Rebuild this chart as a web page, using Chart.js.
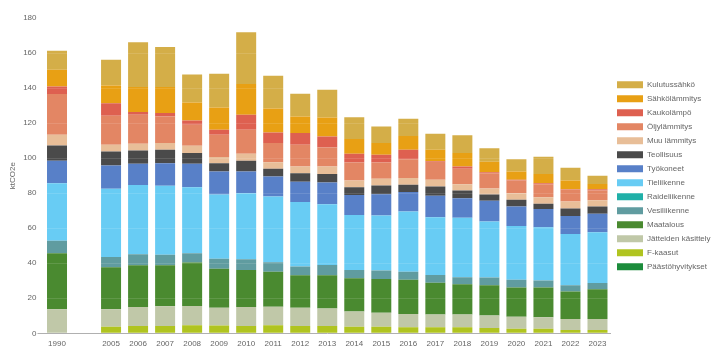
<!DOCTYPE html>
<html>
<head>
<meta charset="utf-8">
<script src="https://cdn.jsdelivr.net/npm/chart.js@4"></script>
<style>
  body { margin: 0; background: #fff; }
  #wrap { width: 720px; height: 360px; }
</style>
</head>
<body>
<div id="wrap"><canvas id="kaavio" width="720" height="360"></canvas></div>
<script>
// vuodet (tyhjä väli 1990 ja 2005 välissä)
let vuodet = ["1990", "", "2005", "2006", "2007", "2008", "2009", "2010", "2011", "2012", "2013",
  "2014", "2015", "2016", "2017", "2018", "2019", "2020", "2021", "2022", "2023"];

// päästöt sektoreittain, ktCO2e
let paastohyvitykset = [0, null, 0, 0, 0, 0, 0, 0, 0, 0, 0, 0, 0, 0, 0, 0, 0, 0, 0, 0, 0];
let fKaasut = [0, null, 3.8, 4.2, 4.2, 4.6, 4.4, 4.2, 4.6, 4.2, 4.2, 3.8, 3.8, 3.4, 3.4, 3.4, 3.0, 2.6, 2.6, 1.9, 1.9];
let jatteet = [13.7, null, 9.9, 10.8, 11.2, 11.0, 10.2, 10.8, 10.6, 10.4, 9.9, 8.6, 8.0, 7.6, 7.3, 7.3, 7.1, 6.9, 6.5, 6.3, 6.3];
let maatalous = [32.0, null, 24.0, 23.9, 23.5, 24.8, 22.3, 21.2, 20.0, 18.5, 19.0, 19.0, 19.2, 19.5, 18.2, 17.3, 17.3, 16.6, 17.0, 15.6, 16.9];
let vesiliikenne = [7.2, null, 5.9, 6.2, 6.0, 5.3, 5.6, 6.1, 5.4, 5.0, 5.9, 4.8, 4.8, 4.7, 4.4, 4.0, 4.4, 4.4, 4.0, 3.6, 3.6];
let raideliikenne = [0, null, 0, 0, 0, 0, 0, 0, 0, 0, 0, 0, 0, 0, 0, 0, 0, 0, 0, 0, 0];
let tieliikenne = [32.8, null, 38.9, 39.5, 39.3, 37.7, 36.7, 37.7, 37.5, 36.8, 34.7, 31.4, 31.4, 34.3, 33.0, 33.9, 32.0, 30.8, 30.5, 29.3, 29.0];
let tyokoneet = [12.8, null, 13.3, 12.2, 12.9, 13.4, 13.2, 12.4, 11.4, 11.6, 12.4, 11.4, 12.2, 11.1, 12.2, 11.2, 11.8, 11.1, 10.4, 10.3, 10.5];
let teollisuus = [8.7, null, 8.0, 7.6, 7.7, 6.1, 4.7, 6.1, 4.4, 4.9, 4.9, 4.4, 5.0, 4.2, 5.3, 4.4, 3.6, 3.8, 2.9, 4.2, 4.2];
let muuLammitys = [6.1, null, 3.8, 3.8, 3.8, 4.1, 3.5, 4.0, 3.8, 3.8, 4.2, 3.8, 3.8, 3.8, 3.8, 3.6, 3.4, 3.8, 3.8, 4.0, 3.6];
let oljylammitys = [23.3, null, 16.6, 16.5, 15.2, 12.0, 12.7, 13.7, 10.9, 12.4, 10.9, 10.3, 9.3, 10.8, 10.3, 8.8, 8.8, 7.2, 7.4, 6.7, 5.5];
let kaukolampo = [4.3, null, 7.2, 1.6, 1.9, 2.5, 2.9, 8.5, 6.1, 6.7, 6.3, 5.0, 4.4, 5.4, 0.5, 1.3, 0.6, 0.4, 0.6, 0.4, 0.8];
let sahkolammitys = [9.6, null, 10.1, 14.3, 14.9, 10.3, 12.7, 17.6, 13.7, 9.5, 10.8, 8.4, 6.7, 7.9, 6.4, 7.7, 5.9, 4.8, 5.3, 4.9, 3.0];
let kulutussahko = [10.8, null, 14.7, 25.5, 22.8, 16.0, 19.3, 29.5, 18.6, 12.9, 15.8, 12.5, 9.5, 9.8, 9.1, 10.2, 7.8, 7.0, 9.8, 7.3, 4.6];

// y-akselin asteikko
let yMax = 180;
let yAskel = 20;

// sarjat alhaalta ylös
let sarjat = [
  { nimi: "Päästöhyvitykset", data: paastohyvitykset, vari: "#1c8c3c" },
  { nimi: "F-kaasut", data: fKaasut, vari: "#b0c420" },
  { nimi: "Jätteiden käsittely", data: jatteet, vari: "#c0c8a8" },
  { nimi: "Maatalous", data: maatalous, vari: "#4a8a30" },
  { nimi: "Vesiliikenne", data: vesiliikenne, vari: "#609ca0" },
  { nimi: "Raideliikenne", data: raideliikenne, vari: "#20b0a8" },
  { nimi: "Tieliikenne", data: tieliikenne, vari: "#68ccf4" },
  { nimi: "Työkoneet", data: tyokoneet, vari: "#5880c8" },
  { nimi: "Teollisuus", data: teollisuus, vari: "#4a4a4a" },
  { nimi: "Muu lämmitys", data: muuLammitys, vari: "#e8be98" },
  { nimi: "Öljylämmitys", data: oljylammitys, vari: "#e38664" },
  { nimi: "Kaukolämpö", data: kaukolampo, vari: "#de6050" },
  { nimi: "Sähkölämmitys", data: sahkolammitys, vari: "#e8a014" },
  { nimi: "Kulutussähkö", data: kulutussahko, vari: "#d4ae48" },
];

let fontti = "'Liberation Sans', Arial, sans-serif";
let harmaa = "#666666";

new Chart(document.getElementById("kaavio"), {
  type: "bar",
  data: {
    labels: vuodet,
    datasets: sarjat.map((s) => ({
      label: s.nimi,
      data: s.data,
      backgroundColor: s.vari,
      borderWidth: 0,
      categoryPercentage: 1,
      barPercentage: 0.74,
    })),
  },
  options: {
    responsive: false,
    animation: false,
    layout: { padding: { top: 18, right: 0, bottom: 0, left: 0 } },
    plugins: {
      tooltip: { enabled: false },
      legend: {
        position: "right",
        fullSize: false,
        reverse: true,
        maxWidth: 109,
        labels: {
          boxWidth: 26,
          boxHeight: 7,
          padding: 6,
          color: harmaa,
          font: { family: fontti, size: 8 },
        },
      },
    },
    scales: {
      x: {
        stacked: true,
        afterFit: (skaala) => { skaala.height = 26.7; },
        grid: { display: false, drawTicks: false },
        border: { display: false },
        ticks: {
          color: harmaa,
          font: { family: fontti, size: 8 },
          padding: 6,
          maxRotation: 0,
          autoSkip: false,
        },
      },
      y: {
        stacked: true,
        min: 0,
        max: yMax,
        afterFit: (skaala) => { skaala.width = 43.5; },
        border: { display: false },
        grid: {
          z: 1,
          drawTicks: true,
          tickLength: 6,
          color: (c) => (c.tick && c.tick.value === 0 ? "#b0b0b0" : "rgba(255,255,255,0.12)"),
          tickColor: (c) => (c.tick && c.tick.value === 0 ? "#b0b0b0" : "rgba(0,0,0,0)"),
        },
        ticks: {
          stepSize: yAskel,
          color: harmaa,
          padding: 1,
          font: { family: fontti, size: 8 },
        },
        title: {
          display: true,
          text: "ktCO2e",
          color: harmaa,
          padding: { top: 8, bottom: 0 },
          font: { family: fontti, size: 8 },
        },
      },
    },
  },
});
</script>
</body>
</html>
